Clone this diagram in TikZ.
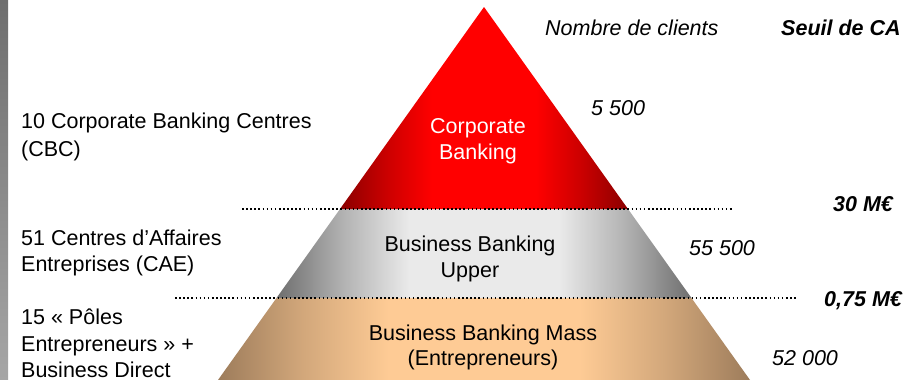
\documentclass[tikz,border=0pt]{standalone}
\usepackage{fontspec}
\setmainfont{Liberation Sans}
\definecolor{redEdge}{HTML}{8A0000}
\definecolor{redMid}{HTML}{FF0000}
\definecolor{greyEdge}{HTML}{6E6E6E}
\definecolor{greyMid}{HTML}{EAEAEA}
\definecolor{tanEdge}{HTML}{9D7C5B}
\definecolor{tanMid}{HTML}{FECB95}
\definecolor{barTop}{HTML}{6E6E6E}
\definecolor{barBot}{HTML}{A6A6A6}
% horizontal shadings: dark at both sides, flat bright band in the middle
% (25bp..75bp is the span that covers the shaded path)
\pgfdeclarehorizontalshading{redtier}{100bp}{color(0bp)=(redEdge); color(25bp)=(redEdge);
  color(33bp)=(redEdge!45!redMid); color(41bp)=(redMid); color(59bp)=(redMid);
  color(67bp)=(redEdge!45!redMid); color(75bp)=(redEdge); color(100bp)=(redEdge)}
\pgfdeclarehorizontalshading{greytier}{100bp}{color(0bp)=(greyEdge); color(25bp)=(greyEdge);
  color(33bp)=(greyEdge!45!greyMid); color(41bp)=(greyMid); color(59bp)=(greyMid);
  color(67bp)=(greyEdge!45!greyMid); color(75bp)=(greyEdge); color(100bp)=(greyEdge)}
\pgfdeclarehorizontalshading{tantier}{100bp}{color(0bp)=(tanEdge); color(25bp)=(tanEdge);
  color(33bp)=(tanEdge!45!tanMid); color(41bp)=(tanMid); color(59bp)=(tanMid);
  color(67bp)=(tanEdge!45!tanMid); color(75bp)=(tanEdge); color(100bp)=(tanEdge)}
\begin{document}
\begin{tikzpicture}[x=1pt,y=-1pt,
  txt/.style={inner sep=0pt,font=\fontsize{21.5}{26.5}\selectfont,align=left,anchor=base west},
  num/.style={inner sep=0pt,font=\fontsize{21.5}{26}\selectfont\itshape,anchor=base west},
  thr/.style={inner sep=0pt,font=\fontsize{21.5}{26}\selectfont\bfseries\itshape,anchor=base west},
  lvl/.style={inner sep=0pt,font=\fontsize{21.5}{25.5}\selectfont,align=center,anchor=base},
  dotline/.style={line width=1.6pt,dash pattern=on 1.6pt off 2.5pt}]
\useasboundingbox (0,0) rectangle (919,380);

% side bar
\shade[top color=barTop,bottom color=barBot] (0,0) rectangle (8,380);

% pyramid corners
\coordinate (apex) at (484,7);
\coordinate (rl) at (340,209);
\coordinate (rr) at (628,209);
\coordinate (gl) at (276.5,298);
\coordinate (gr) at (691.5,298);
\coordinate (bl) at (218,380);
\coordinate (br) at (750,380);

% pyramid tiers
\shade[shading=tantier] (gl) -- (gr) -- (br) -- (bl) -- cycle;
\shade[shading=greytier] (rl) -- (rr) -- (gr) -- (gl) -- cycle;
\shade[shading=redtier] (apex) -- (rr) -- (rl) -- cycle;

% threshold lines
\coordinate (d1a) at (242,209);
\coordinate (d1b) at (732,209);
\coordinate (d2a) at (175,298);
\coordinate (d2b) at (796,298);
\draw[dotline] (d1a) -- (d1b);
\draw[dotline] (d2a) -- (d2b);

% tier labels (anchored at the baseline of the last line)
\node[lvl,text=white] (corp) at (478,159) {Corporate\\Banking};
\node[lvl] (upper) at (470,277) {Business Banking\\Upper};
\node[lvl] (mass) at (483,365.5) {Business Banking Mass\\(Entrepreneurs)};

% network labels
\node[txt,font=\fontsize{21.5}{28.5}\selectfont] (cbc) at (21,156.5) {10 Corporate Banking Centres\\(CBC)};
\node[txt] (cae) at (21,271.5) {51 Centres d’Affaires\\Entreprises (CAE)};
\node[txt] (poles) at (21,377.5) {15 « Pôles\\Entrepreneurs » +\\Business Direct};

% headers
\node[num] (hclients) at (545,35) {Nombre de clients};
\node[thr] (hseuil) at (781,35) {Seuil de CA};

% client counts
\node[num] (n1) at (591,115) {5 500};
\node[num] (n2) at (689,255) {55 500};
\node[num] (n3) at (772,365) {52 000};

% thresholds
\node[thr] (t1) at (833,211) {30 M€};
\node[thr] (t2) at (824,306.5) {0,75 M€};
\end{tikzpicture}
\end{document}
